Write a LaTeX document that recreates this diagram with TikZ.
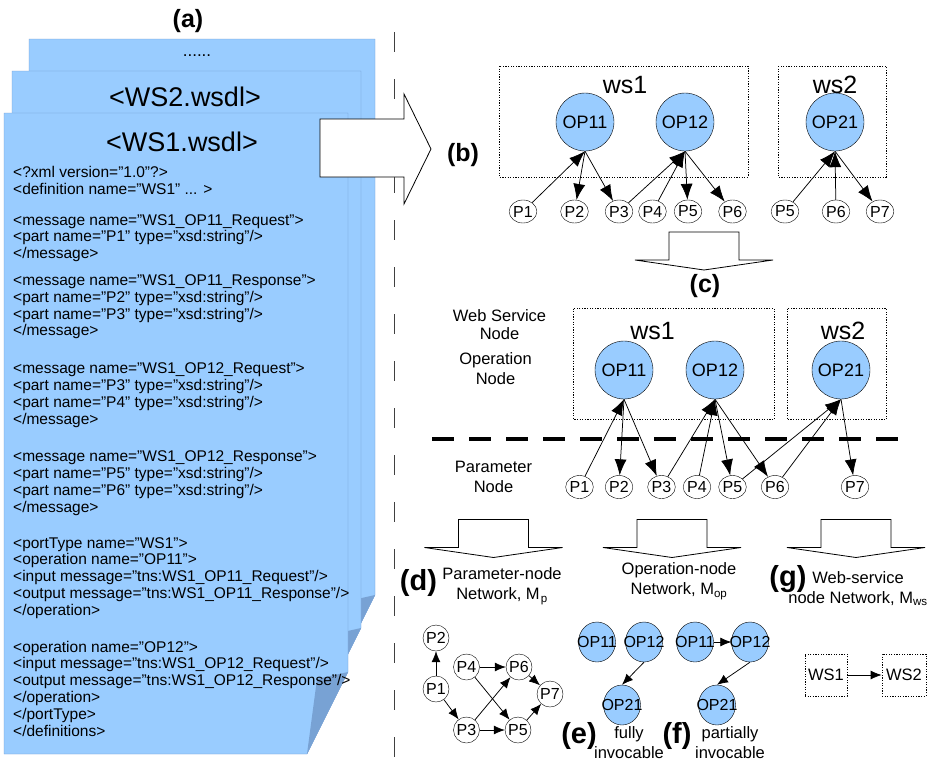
\documentclass[tikz,border=0pt]{standalone}
\usepackage{fontspec}
\setmainfont{Liberation Sans}
\usetikzlibrary{arrows.meta,shapes.geometric,positioning}

\definecolor{opblue}{RGB}{153,204,255}
\definecolor{pageline}{RGB}{110,150,205}
\definecolor{pagecurl}{RGB}{120,162,212}

\newcommand{\setfs}[1]{\fontsize{#1}{#1}\selectfont}
\newcommand{\opname}[1]{\makebox[0pt]{#1}}

% wsdl sheet with a folded corner: left, top, right, fold start
\newcommand{\wsdlsheet}[4]{%
  \filldraw[fill=opblue, draw=pageline] (#1,#2) -- (#3,#2) -- (#3,#4) -- ++(-41,82) -- (#1,#4+82) -- cycle;
  \fill[pagecurl] (#3,#4) -- ++(-41,82) -- ++(10,-75) -- cycle;
}

% hollow arrow pointing down: centre, top
\newcommand{\hollowdown}[2]{%
  \filldraw[fill=white, line width=0.8pt] (#1-35,#2) -- (#1+35,#2) -- (#1+35,#2+28) -- (#1+69,#2+28)
    -- (#1,#2+38) -- (#1-69,#2+28) -- (#1-35,#2+28) -- cycle;
}

\tikzset{
  opnode/.style={circle, draw, fill=opblue, minimum size=58pt, inner sep=0pt, font=\setfs{18}},
  parnode/.style={ellipse, draw, fill=white, minimum width=27pt, minimum height=23pt, inner sep=0pt, font=\setfs{16}},
  pnode/.style={circle, draw, fill=white, minimum size=26pt, inner sep=0pt, font=\setfs{16}},
  opsmall/.style={ellipse, draw, fill=opblue, minimum width=37pt, minimum height=40pt, inner sep=0pt, font=\setfs{16}},
  wsbox/.style={draw, dash pattern=on 1.2pt off 1.4pt, line width=0.75pt},
  link/.style={-{Latex[length=16pt,width=12pt]}, line width=0.75pt},
  plink/.style={-{Latex[length=11pt,width=9pt]}, line width=0.75pt},
  tag/.style={inner sep=0.5pt, font=\bfseries\setfs{25}},
  bigtag/.style={inner sep=0.5pt, font=\bfseries\setfs{29}},
  caption/.style={align=center, inner sep=1pt, font=\fontsize{16.5}{20}\selectfont},
  wsname/.style={font=\setfs{25}}
}

\begin{document}
\begin{tikzpicture}[x=1pt, y=-1pt]

\useasboundingbox (0,0) rectangle (935,764);

% Draw the stack of wsdl files
\wsdlsheet{29}{39}{375}{595}
\wsdlsheet{12}{71}{361}{628}
\wsdlsheet{4}{113}{348}{672}
\node[tag] (ta) at (188,21) {(a)};
\node[font=\setfs{17}] (more) at (197,56) {......};
\node[font=\setfs{27}] (ws2file) at (185,97) {<WS2.wsdl>};
\node[font=\setfs{27}] (ws1file) at (182,142) {<WS1.wsdl>};
\node[anchor=north west, align=left, inner sep=0pt, font=\fontsize{15.5}{16.8}\selectfont] (ws1code) at (13,166) {%
<?xml version="1.0"?>\\
<definition name="WS1" ... >\\[14pt]
<message name="WS1\_OP11\_Request">\\
<part name="P1" type="xsd:string"/>\\
</message>\\[10pt]
<message name="WS1\_OP11\_Response">\\
<part name="P2" type="xsd:string"/>\\
<part name="P3" type="xsd:string"/>\\
</message>\\[21pt]
<message name="WS1\_OP12\_Request">\\
<part name="P3" type="xsd:string"/>\\
<part name="P4" type="xsd:string"/>\\
</message>\\[21pt]
<message name="WS1\_OP12\_Response">\\
<part name="P5" type="xsd:string"/>\\
<part name="P6" type="xsd:string"/>\\
</message>\\[19pt]
<portType name="WS1">\\
<operation name="OP11">\\
<input message="tns:WS1\_OP11\_Request"/>\\
<output message="tns:WS1\_OP11\_Response"/>\\
</operation>\\[20pt]
<operation name="OP12">\\
<input message="tns:WS1\_OP12\_Request"/>\\
<output message="tns:WS1\_OP12\_Response"/>\\
</operation>\\
</portType>\\
</definitions>};

% Dashed separator and the arrow into (b)
\draw[black!75, line width=1pt, dash pattern=on 20pt off 27pt] (394,32) -- (394,764);
\filldraw[fill=white, line width=0.8pt] (320,119) -- (404,119) -- (404,94) -- (431,149)
  -- (404,204) -- (404,177) -- (320,177) -- cycle;

% (b) operations with their parameters
\node[tag] (tb) at (463,155) {(b)};
\draw[wsbox] (499,66) rectangle (748,177);
\draw[wsbox] (778,66) rectangle (886,177);
\node[wsname] (bws1) at (625,85) {ws1};
\node[wsname] (bws2) at (835,85) {ws2};
\node[opnode] (b11) at (585,122) {OP11};
\node[opnode] (b12) at (685,122) {OP12};
\node[opnode] (b21) at (835,122) {OP21};
\foreach \name/\txt/\x in {bp1/P1/523, bp2/P2/574.5, bp3/P3/619, bp4/P4/652.5, bp5/P5/688,
    bp6/P6/732.5, bq5/P5/785, bq6/P6/836, bq7/P7/880}
  \node[parnode] (\name) at (\x,211.5) {\txt};
\foreach \s/\t in {bp1/b11.south, b11.south/bp2, b11.south/bp3, bp3/b12.south, bp4/b12.south,
    b12.south/bp5, b12.south/bp6, bq5/b21.south, bq6/b21.south, b21.south/bq7}
  \draw[link] (\s) -- (\t);

% (c) merged parameter graph
\hollowdown{704}{232}
\node[tag] (tc) at (705,286) {(c)};
\node[caption, font=\fontsize{16.5}{18}\selectfont] (lws) at (499.5,324.5) {Web Service\\Node};
\node[caption] (lop) at (495.5,368.5) {Operation\\Node};
\node[caption] (lpar) at (493.5,476.5) {Parameter\\Node};
\draw[wsbox] (573.5,308.5) rectangle (774,419.5);
\draw[wsbox] (787,308.5) rectangle (886.5,419.5);
\node[wsname] (cws1) at (652.5,331) {ws1};
\node[wsname] (cws2) at (843,331) {ws2};
\node[opnode] (c11) at (624,370) {OP11};
\node[opnode] (c12) at (715,370) {OP12};
\node[opnode] (c21) at (841,370) {OP21};
\draw[line width=3.3pt, dash pattern=on 22pt off 15pt] (432,439) -- (898,439);
\foreach \name/\txt/\x in {cp1/P1/579.5, cp2/P2/619, cp3/P3/661.5, cp4/P4/697, cp5/P5/732.5,
    cp6/P6/775, cp7/P7/855}
  \node[parnode] (\name) at (\x,487) {\txt};
\foreach \s/\t in {cp1/c11.south, c11.south/cp2, c11.south/cp3, cp3/c12.south, cp4/c12.south,
    c12.south/cp5, c12.south/cp6, cp5/c21.south, cp6/c21.south, c21.south/cp7}
  \draw[link] (\s) -- (\t);

% Three networks taken out of (c)
\hollowdown{493.5}{519.5}
\hollowdown{672}{519.5}
\hollowdown{856}{519.5}
\node[bigtag] (td) at (418.5,583) {(d)};
\node[caption] (capd) at (502,586) {Parameter-node\\Network, M\kern1pt\textsubscript{p}};
\node[caption] (capop) at (679,581) {Operation-node\\Network, M\textsubscript{op}};
\node[bigtag] (tg) at (788,579) {(g)};
\node[caption] (capws) at (858,588.5) {Web-service\\node Network, M\textsubscript{ws}};

% (d) parameter-node network
\node[pnode] (d2) at (436,638) {P2};
\node[pnode] (d1) at (436,689) {P1};
\node[pnode] (d4) at (466.5,667) {P4};
\node[pnode] (d6) at (519,667) {P6};
\node[pnode] (d7) at (550,694) {P7};
\node[pnode] (d3) at (466.5,730) {P3};
\node[pnode] (d5) at (518,730) {P5};
\foreach \s/\t in {d1/d2, d1/d3, d4/d6, d4/d5, d3/d6, d3/d5, d6/d7, d5/d7}
  \draw[plink] (\s) -- (\t);

% (e) and (f) operation-node networks
\node[opsmall] (e11) at (597,642) {\opname{OP11}};
\node[opsmall] (e12) at (644,642) {\opname{OP12}};
\node[opsmall] (e21) at (622,705) {\opname{OP21}};
\draw[plink] (e12.south) -- (e21.north);
\node[opsmall] (f11) at (695,642) {\opname{OP11}};
\node[opsmall] (f12) at (750,642) {\opname{OP12}};
\node[opsmall] (f21) at (717,705) {\opname{OP21}};
\draw[plink] (f11) -- (f12);
\draw[plink] (f12.south) -- (f21.north);
\node[bigtag] (te) at (579,736) {(e)};
\node[caption, font=\fontsize{16.5}{20}\selectfont] (cape) at (629,743) {fully\\invocable};
\node[bigtag] (tf) at (677,736) {(f)};
\node[caption, font=\fontsize{16.5}{20}\selectfont] (capf) at (730,743) {partially\\invocable};

% (g) web-service node network
\node[wsbox, minimum width=42pt, minimum height=42pt, inner sep=1pt, font=\setfs{16.5}] (g1) at (826,675) {WS1};
\node[wsbox, minimum width=44pt, minimum height=42pt, inner sep=1pt, font=\setfs{16.5}] (g2) at (904,675) {WS2};
\draw[plink] (g1) -- (g2);

\end{tikzpicture}
\end{document}
